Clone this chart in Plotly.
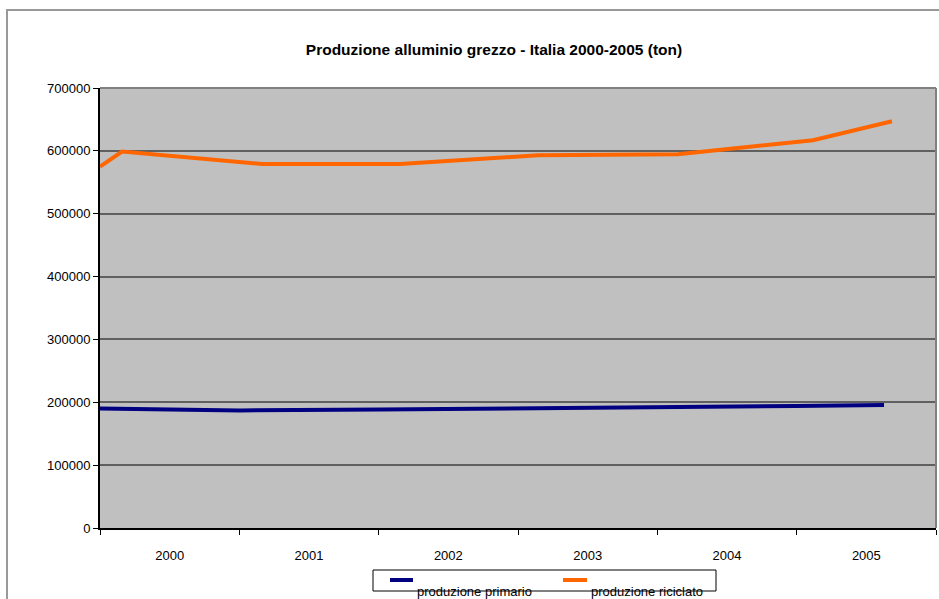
import plotly.graph_objects as go

# Data (x in category units: 0..6, each year spans one unit)
years = ["2000", "2001", "2002", "2003", "2004", "2005"]
primario_x = [0.0, 1.005, 2.01, 3.014, 4.019, 4.99, 5.627]
primario_y = [190000, 187000, 188500, 190000, 192500, 194000, 195500]
riciclato_x = [0.0, 0.158, 1.163, 2.153, 3.144, 4.148, 5.117, 5.684]
riciclato_y = [575000, 599000, 579000, 579000, 593000, 594500, 617000, 647000]
yticks = [0, 100000, 200000, 300000, 400000, 500000, 600000, 700000]

W, H = 939, 599
L, R, T, B = 100, 936, 88, 528
pw, ph = R - L, B - T

def px(x):
    return (x - L) / pw

def py(y):
    return (B - y) / ph

FONT = "Liberation Sans, Arial, sans-serif"

fig = go.Figure()
fig.add_trace(go.Scatter(x=primario_x, y=primario_y, mode="lines",
                         line=dict(color="#000080", width=4),
                         name="produzione primario", showlegend=False))
fig.add_trace(go.Scatter(x=riciclato_x, y=riciclato_y, mode="lines",
                         line=dict(color="#FF6600", width=4),
                         name="produzione riciclato", showlegend=False))

shapes = []
# outer chart frame
shapes.append(dict(type="rect", xref="paper", yref="paper",
                   x0=px(7), x1=px(W + 20), y0=py(10), y1=py(H + 20),
                   line=dict(color="#999999", width=2), fillcolor="rgba(0,0,0,0)", layer="below"))
# plot area top and right borders
shapes.append(dict(type="line", xref="paper", yref="paper", x0=0, x1=1, y0=1, y1=1,
                   line=dict(color="#808080", width=2)))
shapes.append(dict(type="line", xref="paper", yref="paper", x0=1, x1=1, y0=0, y1=1,
                   line=dict(color="#808080", width=2)))
# legend box
shapes.append(dict(type="rect", xref="paper", yref="paper",
                   x0=px(373), x1=px(716), y0=py(570), y1=py(591),
                   line=dict(color="#000000", width=1), fillcolor="white", layer="above"))
shapes.append(dict(type="line", xref="paper", yref="paper", x0=px(390), x1=px(413),
                   y0=py(580), y1=py(580), line=dict(color="#000080", width=4)))
shapes.append(dict(type="line", xref="paper", yref="paper", x0=px(563), x1=px(587),
                   y0=py(580), y1=py(580), line=dict(color="#FF6600", width=4)))

annotations = [
    dict(text="produzione primario", xref="paper", yref="paper", x=px(415), y=py(591),
         xanchor="left", yanchor="middle", showarrow=False,
         font=dict(family=FONT, size=13, color="#000")),
    dict(text="produzione riciclato", xref="paper", yref="paper", x=px(589), y=py(591),
         xanchor="left", yanchor="middle", showarrow=False,
         font=dict(family=FONT, size=13, color="#000")),
]

fig.update_layout(
    width=W, height=H,
    margin=dict(l=L, r=W - R, t=T, b=H - B),
    paper_bgcolor="white", plot_bgcolor="#C0C0C0",
    font=dict(family=FONT, size=13, color="#000"),
    title=dict(text="<b>Produzione alluminio grezzo - Italia 2000-2005 (ton)</b>",
               x=px(494), xref="paper", xanchor="center",
               y=1 - 50 / H, yref="container", yanchor="middle",
               font=dict(family=FONT, size=15.5, color="#000")),
    shapes=shapes, annotations=annotations, showlegend=False,
)
fig.update_xaxes(range=[0, 6], tickmode="array",
                 tickvals=[i + 0.5 for i in range(len(years))], ticktext=years,
                 ticks="", showgrid=False, zeroline=False,
                 showline=True, linecolor="#000", linewidth=2,
                 ticklabelstandoff=14,
                 minor=dict(tickmode="array", tickvals=list(range(7)), ticks="outside",
                            ticklen=5, tickcolor="#000", tickwidth=1, showgrid=False))
fig.update_yaxes(range=[0, 700000], tickmode="array", tickvals=yticks,
                 ticktext=[str(v) for v in yticks],
                 ticks="outside", ticklen=5, tickcolor="#000", tickwidth=1,
                 showgrid=True, gridcolor="#606060", gridwidth=2, zeroline=False,
                 showline=True, linecolor="#000", linewidth=2)

fig.write_html("out.html")
